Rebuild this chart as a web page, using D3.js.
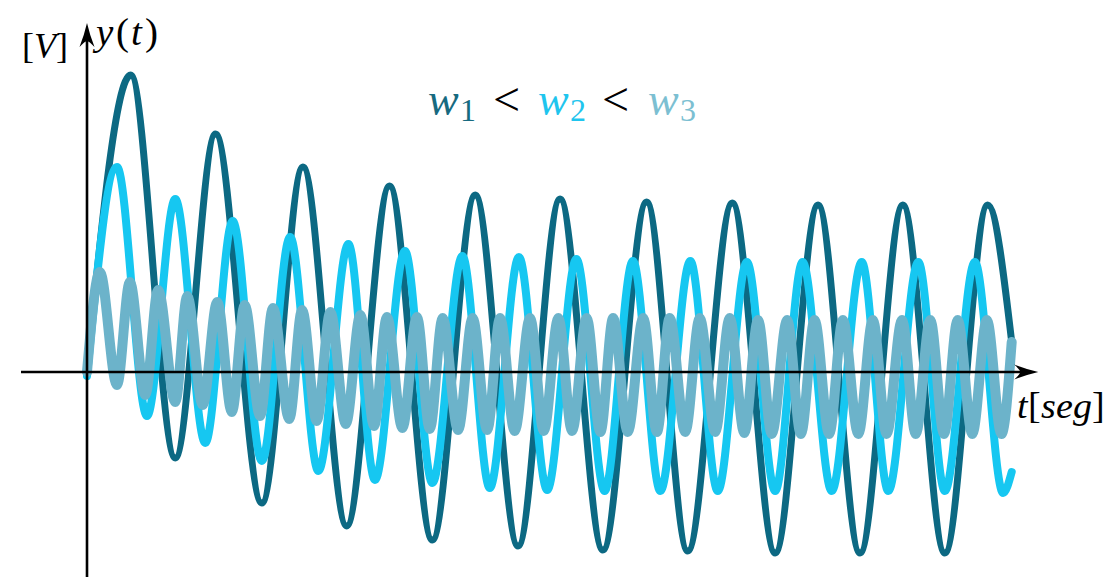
<!DOCTYPE html>
<html>
<head>
<meta charset="utf-8">
<script src="https://cdn.jsdelivr.net/npm/d3@7"></script>
<style>
  @font-face {
    font-family: 'MathSerif';
    src: local('Liberation Serif'), local('LiberationSerif');
    font-style: normal;
    font-weight: normal;
  }
  @font-face {
    font-family: 'MathSerif';
    src: local('Liberation Serif Italic'), local('LiberationSerif-Italic');
    font-style: italic;
    font-weight: normal;
  }
  html, body { margin: 0; padding: 0; background: #fff; }
  .labels text { font-family: 'MathSerif', 'Liberation Serif', serif; }
</style>
</head>
<body>
<div id="chart"></div>
<script>
// Extremes (t [seg], y [V]), one list per frequency.
const w1Points = [
  [0, 0], [0.51, 2.97], [1.03, -0.86], [1.50, 2.38], [2.04, -1.31], [2.52, 2.05],
  [3.03, -1.54], [3.53, 1.86], [4.03, -1.68], [4.53, 1.77], [5.03, -1.74],
  [5.52, 1.73], [6.02, -1.78], [6.53, 1.70], [7.01, -1.79], [7.53, 1.69],
  [8.03, -1.81], [8.53, 1.67], [9.02, -1.81], [9.52, 1.67], [10.01, -1.81],
  [10.51, 1.67], [10.79, 0.30]
];

const w2Points = [
  [0, -0.04], [0.35, 2.05], [0.70, -0.44], [1.03, 1.73], [1.38, -0.71], [1.70, 1.51],
  [2.04, -0.89], [2.37, 1.35], [2.70, -0.99], [3.05, 1.28], [3.36, -1.08],
  [3.71, 1.21], [4.03, -1.11], [4.38, 1.16], [4.70, -1.16], [5.04, 1.15],
  [5.37, -1.18], [5.71, 1.13], [6.04, -1.19], [6.37, 1.11], [6.69, -1.19],
  [7.04, 1.11], [7.36, -1.19], [7.70, 1.10], [8.03, -1.19], [8.35, 1.10],
  [8.69, -1.19], [9.04, 1.10], [9.35, -1.19], [9.70, 1.10], [10.01, -1.19],
  [10.36, 1.10], [10.69, -1.21], [10.79, -1.00]
];

const w3Points = [
  [0, 0], [0.15, 1.00], [0.35, -0.13], [0.50, 0.90], [0.68, -0.23], [0.83, 0.82],
  [1.03, -0.30], [1.17, 0.76], [1.35, -0.33], [1.52, 0.70], [1.69, -0.40],
  [1.84, 0.67], [2.02, -0.44], [2.17, 0.64], [2.36, -0.47], [2.51, 0.62],
  [2.68, -0.49], [2.84, 0.60], [3.02, -0.52], [3.19, 0.57], [3.35, -0.54],
  [3.50, 0.55], [3.68, -0.56], [3.85, 0.55], [4.00, -0.57], [4.15, 0.54],
  [4.33, -0.58], [4.50, 0.54], [4.67, -0.58], [4.82, 0.54], [4.99, -0.59],
  [5.17, 0.54], [5.33, -0.59], [5.50, 0.54], [5.66, -0.59], [5.83, 0.54],
  [5.99, -0.60], [6.14, 0.54], [6.31, -0.60], [6.49, 0.54], [6.65, -0.60],
  [6.80, 0.54], [6.98, -0.60], [7.15, 0.54], [7.33, -0.60], [7.50, 0.54],
  [7.67, -0.61], [7.83, 0.52], [7.99, -0.62], [8.17, 0.52], [8.33, -0.62],
  [8.49, 0.52], [8.66, -0.62], [8.82, 0.52], [9.00, -0.62], [9.17, 0.52],
  [9.33, -0.62], [9.51, 0.52], [9.67, -0.62], [9.84, 0.52], [10.00, -0.62],
  [10.16, 0.52], [10.33, -0.62], [10.50, 0.52], [10.67, -0.62], [10.79, 0.30]
];

const seriesNames = ['w1', 'w2', 'w3'];
const seriesData = [w1Points, w2Points, w3Points];

// Axis extents (the arrows run past the data).
const tExtent = [-0.77, 11.1];
const vExtent = [-2.1, 3.49];

const attrs = {
  svgWidth: 1109,
  svgHeight: 577,
  container: '#chart',
  lineColors: ['#0c6983', '#16c7f1', '#6cb3ca'],
  textColors: ['#176a80', '#1fc5ee', '#7cbfd2'],
  lineWidths: [7, 8, 10]
};

const calc = {};
calc.originX = 87;
calc.originY = 372;
calc.pxPerSec = 85.7;
calc.pxPerVolt = 100;

const xScale = d3.scaleLinear()
  .domain([0, 10.8])
  .range([calc.originX, calc.originX + 10.8 * calc.pxPerSec]);

const yScale = d3.scaleLinear()
  .domain([-2, 3])
  .range([calc.originY + 2 * calc.pxPerVolt, calc.originY - 3 * calc.pxPerVolt]);

const svg = d3.select(attrs.container)
  .append('svg')
  .attr('width', attrs.svgWidth)
  .attr('height', attrs.svgHeight);

// Curves: slowest first, so the faster ones sit on top.
const line = d3.line()
  .x(d => xScale(d[0]))
  .y(d => yScale(d[1]))
  .curve(d3.curveMonotoneX);

svg.append('g')
  .attr('class', 'curves')
  .selectAll('path')
  .data(seriesData)
  .join('path')
  .attr('class', (d, i) => 'curve-' + seriesNames[i])
  .attr('d', line)
  .attr('fill', 'none')
  .attr('stroke', (d, i) => attrs.lineColors[i])
  .attr('stroke-width', (d, i) => attrs.lineWidths[i])
  .attr('stroke-linejoin', 'round')
  .attr('stroke-linecap', 'round');

// Axes.
const axes = svg.append('g').attr('class', 'axes');

axes.append('line')
  .attr('x1', xScale(tExtent[0]))
  .attr('x2', xScale(tExtent[1]) - 10)
  .attr('y1', yScale(0))
  .attr('y2', yScale(0))
  .attr('stroke', '#000')
  .attr('stroke-width', 2.6);

axes.append('line')
  .attr('x1', xScale(0))
  .attr('x2', xScale(0))
  .attr('y1', yScale(vExtent[0]))
  .attr('y2', yScale(vExtent[1]) + 10)
  .attr('stroke', '#000')
  .attr('stroke-width', 2.6);

// Stealth-like arrow head, pointing right at the origin.
const arrowHead = 'M0,0 Q-11,-2.5 -24,-7.5 Q-18,-2 -18,0 Q-18,2 -24,7.5 Q-11,2.5 0,0 Z';

axes.append('path')
  .attr('d', arrowHead)
  .attr('fill', '#000')
  .attr('transform', 'translate(' + xScale(tExtent[1]) + ',' + yScale(0) + ')');

axes.append('path')
  .attr('d', arrowHead)
  .attr('fill', '#000')
  .attr('transform', 'translate(' + xScale(0) + ',' + yScale(vExtent[1]) + ') rotate(-90)');

// Labels.
const labels = svg.append('g').attr('class', 'labels');

labels.append('text')
  .attr('x', 22).attr('y', 58)
  .attr('font-size', 36)
  .html('[<tspan font-style="italic">V</tspan>]');

labels.append('text')
  .attr('x', 96).attr('y', 45)
  .attr('font-size', 39)
  .attr('letter-spacing', 2.5)
  .html('<tspan font-style="italic">y</tspan>(<tspan font-style="italic">t</tspan>)');

labels.append('text')
  .attr('x', 1017).attr('y', 418)
  .attr('font-size', 38)
  .html('<tspan font-style="italic">t</tspan>[<tspan font-style="italic">seg</tspan>]');

// Frequency note: w1 < w2 < w3.
const legendX = [428, 538, 648];
const lessX = [493, 602];
const legendBase = 115;

seriesNames.forEach((name, i) => {
  const t = labels.append('text')
    .attr('x', legendX[i]).attr('y', legendBase)
    .attr('font-size', 46)
    .attr('fill', attrs.textColors[i]);
  t.append('tspan').attr('font-style', 'italic').text(name[0]);
  t.append('tspan')
    .attr('font-size', 32)
    .attr('dy', 6)
    .attr('dx', 1)
    .text(name.slice(1));
});

lessX.forEach(x => {
  labels.append('text')
    .attr('x', x).attr('y', legendBase)
    .attr('font-size', 48)
    .text('<');
});
</script>
</body>
</html>
